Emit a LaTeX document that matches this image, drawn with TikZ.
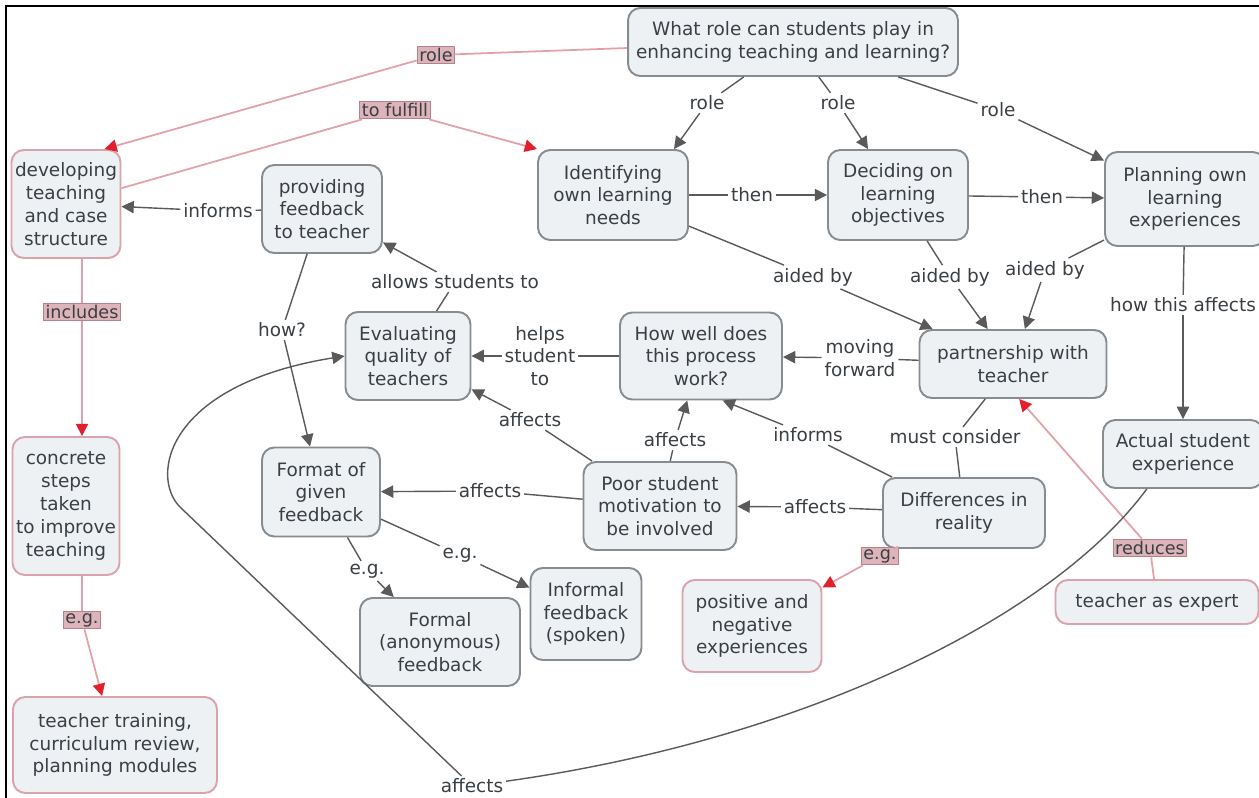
\documentclass[tikz,border=0pt]{standalone}
\usepackage{fontspec}
\setmainfont{DejaVu Sans}
\usepackage{xcolor}
\definecolor{conceptfill}{HTML}{EDF1F4}
\definecolor{conceptline}{HTML}{878C90}
\definecolor{pinkline}{HTML}{D9A3AB}
\definecolor{redlabfill}{HTML}{DDB4BA}
\definecolor{redlabline}{HTML}{B8808A}
\definecolor{redwirecol}{HTML}{E3A0A8}
\definecolor{redtipcol}{HTML}{E0202C}
\definecolor{textdark}{HTML}{3A3F44}
\definecolor{wiregray}{HTML}{5A5A5A}
\usetikzlibrary{arrows.meta,positioning,calc}
\tikzset{
  concept/.style={rectangle, rounded corners=7pt, draw=conceptline, line width=1.1pt, fill=conceptfill, text=textdark, align=center, font=\fontsize{10.5}{13}\selectfont, inner sep=2pt},
  pinkconcept/.style={concept, draw=pinkline},
  linklab/.style={fill=white, text=textdark, inner sep=1.5pt, align=center, font=\fontsize{10.5}{13}\selectfont},
  redlab/.style={fill=redlabfill, draw=redlabline, line width=0.6pt, text=textdark, inner sep=1.2pt, font=\fontsize{10}{11}\selectfont},
  wire/.style={draw=wiregray, line width=0.8pt},
  redwire/.style={draw=redwirecol, line width=1pt},
  arr/.style={-{Triangle[length=7pt,width=7pt]}},
  redarr/.style={-{Triangle[length=7pt,width=7pt,color=redtipcol]}}
}

\begin{document}
\begin{tikzpicture}[x=0.02cm, y=-0.02cm]
        \useasboundingbox (0,0) rectangle (1259,798);
        \draw[line width=1.2pt, black] (6,798) -- (6,6) -- (1259,6);

        % Concepts
        \node[concept, minimum width=6.6cm, minimum height=1.36cm] (q) at (793,42) {What role can students play in\\enhancing teaching and learning?};
        \node[pinkconcept, minimum width=2.14cm, minimum height=2.16cm] (dev) at (66,204) {developing\\teaching\\and case\\structure};
        \node[concept, minimum width=2.4cm, minimum height=1.76cm] (prov) at (322,209) {providing\\feedback\\to teacher};
        \node[concept, minimum width=3cm, minimum height=1.8cm] (ident) at (613,195) {Identifying\\own learning\\needs};
        \node[concept, minimum width=2.8cm, minimum height=1.8cm] (decide) at (898,195) {Deciding on\\learning\\objectives};
        \node[concept, minimum width=3.2cm, minimum height=1.88cm] (plan) at (1185,199) {Planning own\\learning\\experiences};
        \node[concept, minimum width=2.5cm, minimum height=1.76cm] (eval) at (408,356) {Evaluating\\quality of\\teachers};
        \node[concept, minimum width=3.24cm, minimum height=1.74cm] (how) at (701,356) {How well does\\this process\\work?};
        \node[concept, minimum width=3.74cm, minimum height=1.36cm] (part) at (1013,364) {partnership with\\teacher};
        \node[concept, minimum width=3.2cm, minimum height=1.36cm] (actual) at (1183,454) {Actual student\\experience};
        \node[pinkconcept, minimum width=2.14cm, minimum height=2.76cm] (concrete) at (66,506) {concrete\\steps\\taken\\to improve\\teaching};
        \node[concept, minimum width=2.36cm, minimum height=1.78cm] (format) at (321,492) {Format of\\given\\feedback};
        \node[concept, minimum width=3.06cm, minimum height=1.76cm] (poor) at (660,506) {Poor student\\motivation to\\be involved};
        \node[concept, minimum width=3.24cm, minimum height=1.4cm] (diff) at (964,513) {Differences in\\reality};
        \node[concept, minimum width=3.2cm, minimum height=1.76cm] (formal) at (440,642) {Formal\\(anonymous)\\feedback};
        \node[concept, minimum width=2.22cm, minimum height=1.84cm] (informal) at (586,614) {Informal\\feedback\\(spoken)};
        \node[pinkconcept, minimum width=2.78cm, minimum height=1.84cm] (posneg) at (752,626) {positive and\\negative\\experiences};
        \node[pinkconcept, minimum width=4.06cm, minimum height=0.88cm] (expert) at (1157,602) {teacher as expert};
        \node[pinkconcept, minimum width=4.08cm, minimum height=1.92cm] (training) at (115,745) {teacher training,\\curriculum review,\\planning modules};

        % Link labels
        \node[redlab] (rrole) at (436,55) {role};
        \node[redlab] (rfulfill) at (395,110) {to fulfill};
        \node[redlab] (rincl) at (82,312) {includes};
        \node[redlab] (reg1) at (82,620) {e.g.};
        \node[redlab] (reg2) at (880,556) {e.g.};
        \node[redlab] (rreduce) at (1150,548) {reduces};
        \node[linklab] (lrole1) at (707,103) {role};
        \node[linklab] (lrole2) at (838,103) {role};
        \node[linklab] (lrole3) at (998,110) {role};
        \node[linklab] (lthen1) at (752,195) {then};
        \node[linklab] (lthen2) at (1042,197) {then};
        \node[linklab] (linform1) at (218,211) {informs};
        \node[linklab] (lallow) at (455,282) {allows students to};
        \node[linklab] (lhowq) at (282,330) {how?};
        \node[linklab] (lhelps) at (540,356) {helps\\student\\to};
        \node[linklab] (lmoving) at (860,358) {moving\\forward};
        \node[linklab] (laided1) at (813,277) {aided by};
        \node[linklab] (laided2) at (950,277) {aided by};
        \node[linklab] (laided3) at (1045,270) {aided by};
        \node[linklab] (lhowaff) at (1183,305) {how this affects};
        \node[linklab] (lmust) at (955,437) {must consider};
        \node[linklab] (linform2) at (808,435) {informs};
        \node[linklab] (laffhow) at (675,440) {affects};
        \node[linklab] (laffeval) at (530,420) {affects};
        \node[linklab] (lafffmt) at (490,491) {affects};
        \node[linklab] (laffpoor) at (815,507) {affects};
        \node[linklab] (legformal) at (367,571) {e.g.};
        \node[linklab] (leginf) at (460,555) {e.g.};
        \node[linklab] (laffbig) at (472,786) {affects};
        \coordinate (bend) at (180,507);

        % Links from the question
        \draw[wire] (q) -- (lrole1);
        \draw[wire, arr] (lrole1) -- (ident.37);
        \draw[wire] (q) -- (lrole2);
        \draw[wire, arr] (lrole2) -- (decide);
        \draw[wire] (q) -- (lrole3);
        \draw[wire, arr] (lrole3) -- (plan);
        \draw[redwire] (q) -- (rrole);
        \draw[redwire, redarr] (rrole) -- (dev.55);
        \draw[redwire] (dev) -- (rfulfill);
        \draw[redwire, redarr] (rfulfill) -- (ident.north west);

        % Top row
        \draw[wire] (ident) -- (lthen1);
        \draw[wire, arr] (lthen1) -- (decide);
        \draw[wire] (decide) -- (lthen2);
        \draw[wire, arr] (lthen2) -- (plan);
        \draw[wire] (prov) -- (linform1);
        \draw[wire, arr] (linform1) -- (dev);
        \draw[wire] (ident) -- (laided1);
        \draw[wire, arr] (laided1) -- (part);
        \draw[wire] (decide) -- (laided2);
        \draw[wire, arr] (laided2) -- (part);
        \draw[wire] (plan) -- (laided3);
        \draw[wire, arr] (laided3) -- (part);
        \draw[wire] (plan) -- (lhowaff);
        \draw[wire, arr] (lhowaff) -- (actual);

        % Middle
        \draw[wire] (eval) -- (lallow);
        \draw[wire, arr] (lallow) -- (prov);
        \draw[wire] (prov) -- (lhowq);
        \draw[wire, arr] (lhowq) -- (format);
        \draw[wire] (how) -- (lhelps);
        \draw[wire, arr] (lhelps) -- (eval);
        \draw[wire] (part) -- (lmoving);
        \draw[wire, arr] (lmoving) -- (how);
        \draw[wire] (part) -- (lmust);
        \draw[wire] (lmust) -- (diff);
        \draw[wire] (diff) -- (linform2);
        \draw[wire, arr] (linform2) -- (how.-64);
        \draw[wire] (poor) -- (laffhow);
        \draw[wire, arr] (laffhow) -- (how);
        \draw[wire] (poor) -- (laffeval);
        \draw[wire, arr] (laffeval) -- (eval);
        \draw[wire] (poor) -- (lafffmt);
        \draw[wire, arr] (lafffmt) -- (format);
        \draw[wire] (diff) -- (laffpoor);
        \draw[wire, arr] (laffpoor) -- (poor);
        \draw[wire] (format) -- (legformal);
        \draw[wire, arr] (legformal) -- (formal);
        \draw[wire] (format) -- (leginf);
        \draw[wire, arr] (leginf) -- (informal);

        % Red links on the left and right
        \draw[redwire] (rincl |- dev.south) -- (rincl);
        \draw[redwire, redarr] (rincl) -- (rincl |- concrete.north);
        \draw[redwire] (reg1 |- concrete.south) -- (reg1);
        \draw[redwire, redarr] (reg1) -- (training);
        \draw[redwire] (diff) -- (reg2);
        \draw[redwire, redarr] (reg2) -- (posneg);
        \draw[redwire] (expert) -- (rreduce);
        \draw[redwire, redarr] (rreduce) -- (part.-80);

        % Long curve
        \draw[wire] (actual.-136) .. controls (1050,620) and (800,740) .. (laffbig);
        \draw[wire, arr] (laffbig) -- (bend) .. controls (150,477) and (165,385) .. (eval.west);
      \end{tikzpicture}
\end{document}
